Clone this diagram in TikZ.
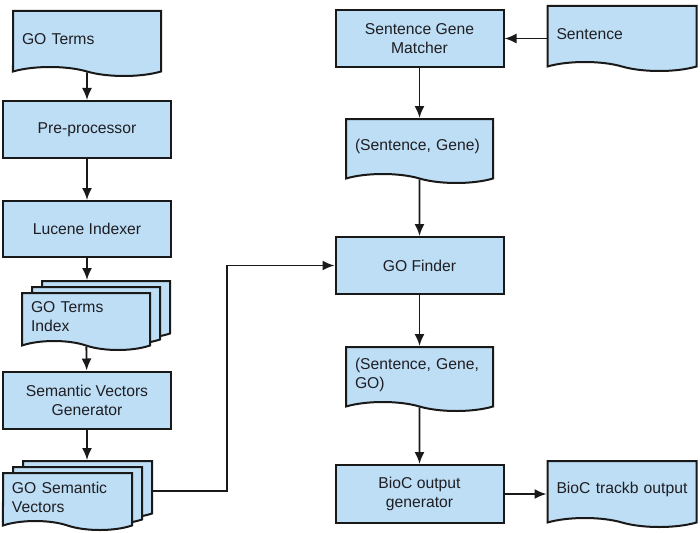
\documentclass[tikz,border=0pt]{standalone}
\usepackage{fontspec}
\setmainfont{Liberation Sans}
\usetikzlibrary{shapes.symbols,arrows.meta}

\definecolor{boxfill}{RGB}{190,222,245}
\definecolor{boxline}{RGB}{25,25,25}
\definecolor{txt}{RGB}{30,30,35}

\tikzset{
    proc/.style = {rectangle, draw=boxline, fill=boxfill, line width=2pt,
        minimum width=168pt, minimum height=57pt, align=center,
        text=txt, font=\fontsize{15.7}{19}\selectfont},
    doc/.style = {tape, tape bend top=none, tape bend bottom=out and in,
        tape bend height=9pt, draw=boxline, fill=boxfill, line width=2pt,
        anchor=north, inner xsep=9pt, align=left, text=txt,
        font=\fontsize{15.7}{19}\selectfont},
    arr/.style = {-{Latex[length=12pt,width=10pt]}, line width=1.8pt, draw=boxline},
}

\begin{document}
\begin{tikzpicture}[x=1pt, y=-1pt]
    \useasboundingbox (0,0) rectangle (700,532);

    % left column
    \node[doc, minimum width=148pt, minimum height=65pt, text width=130pt] (goterms) at (87,10) {GO Terms};
    \node[proc, minimum height=57pt] (preproc) at (87,129.5) {Pre-processor};
    \node[proc, minimum height=56pt] (lucene) at (87,229) {Lucene Indexer};
    \node[doc, minimum width=128pt, minimum height=57pt] (gotermsidxc) at (106,280) {};
    \node[doc, minimum width=128pt, minimum height=57pt] (gotermsidxb) at (96,286) {};
    \node[doc, minimum width=128pt, minimum height=57pt, text width=110pt] (gotermsidx) at (86,292) {GO Terms\\Index};
    \node[proc, minimum height=57pt] (svgen) at (87,400) {Semantic Vectors\\Generator};
    \node[doc, minimum width=129pt, minimum height=57pt] (gosemvecc) at (87.5,460) {};
    \node[doc, minimum width=129pt, minimum height=57pt] (gosemvecb) at (77.5,466) {};
    \node[doc, minimum width=129pt, minimum height=57pt, text width=111pt] (gosemvec) at (67.5,472) {GO Semantic\\Vectors};

    % right column
    \node[proc] (sgm) at (419.5,38.5) {Sentence Gene\\Matcher};
    \node[doc, minimum width=149pt, minimum height=65pt, text width=131pt] (sent) at (622,5) {Sentence};
    \node[doc, minimum width=147pt, minimum height=64pt, text width=129pt] (sentgene) at (419.5,118) {(Sentence, Gene)};
    \node[proc] (gofinder) at (419.5,265.5) {GO Finder};
    \node[doc, minimum width=147pt, minimum height=64pt, text width=129pt] (sentgenego) at (419.5,346) {(Sentence, Gene,\\GO)};
    \node[proc, minimum height=58pt] (biocgen) at (419.5,494) {BioC output\\generator};
    \node[doc, minimum width=149pt, minimum height=66pt, text width=131pt] (biocout) at (622,460) {BioC trackb output};

    \coordinate (bend) at (227,0);
    \coordinate (vecout) at ([yshift=-6pt]gosemvecc.east);

    % connectors
    \draw[arr] (goterms) -- (preproc);
    \draw[arr] (preproc) -- (lucene);
    \draw[arr] (lucene) -- (gotermsidxc.north -| lucene);
    \draw[arr] (gotermsidx) -- (svgen);
    \draw[arr] (svgen) -- (gosemvecc.north -| svgen);
    \draw[arr] (vecout) -- (vecout -| bend) |- (gofinder.west);
    \draw[arr] (sent.west |- sgm) -- (sgm);
    \draw[arr] (sgm) -- (sentgene);
    \draw[arr] (sentgene) -- (gofinder);
    \draw[arr] (gofinder) -- (sentgenego);
    \draw[arr] (sentgenego) -- (biocgen);
    \draw[arr] (biocgen) -- (biocout.west |- biocgen);
\end{tikzpicture}
\end{document}
